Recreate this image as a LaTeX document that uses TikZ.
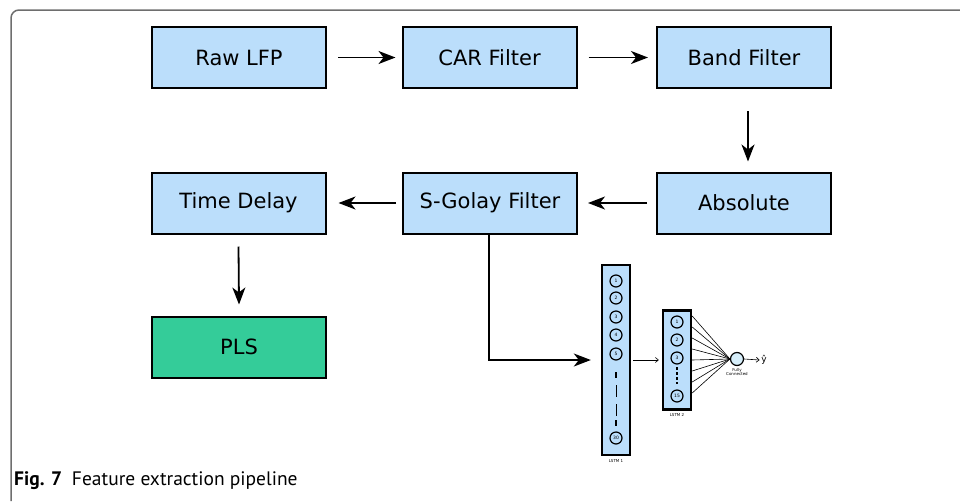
\documentclass[tikz,border=0pt]{standalone}
\usepackage{fontspec}
\newfontfamily\boxfont{DejaVu Sans}
\newfontfamily\capfont{PT Sans}
\usetikzlibrary{
    arrows.meta,
    positioning
}
\definecolor{boxblue}{RGB}{187,222,251}
\definecolor{plsgreen}{RGB}{52,204,153}
\definecolor{fcblue}{RGB}{214,238,250}
\definecolor{framegrey}{RGB}{110,110,110}
\tikzset{
    stage/.style={draw=black, line width=2pt, fill=boxblue,
        minimum width=174pt, minimum height=61pt, inner sep=0pt,
        font=\boxfont\fontsize{21}{24}\selectfont},
    flow/.style={-{Stealth[length=17pt,width=13pt,inset=5pt]}, line width=1.8pt},
    thinflow/.style={-{Straight Barb[length=3pt,width=5pt]}, line width=0.6pt},
    layer/.style={draw=black, line width=2.4pt, fill=boxblue,
        minimum width=28pt, inner sep=0pt},
    unit/.style={circle, draw=black, line width=1.2pt, fill=boxblue,
        minimum size=12pt, inner sep=0pt,
        font=\boxfont\fontsize{4.5}{5}\selectfont},
    tag/.style={font=\boxfont\fontsize{4}{4.5}\selectfont, align=center, inner sep=1pt}
}

\begin{document}
\begin{tikzpicture}[x=1pt,y=-1pt]
    \useasboundingbox (0,0) rectangle (960,501);
    \draw[framegrey, line width=1.5pt, rounded corners=8pt] (11,501) -- (11,10) -- (960,10);

    % pipeline
    \node[stage] (raw)    at (239,57.5)  {Raw LFP};
    \node[stage] (car)    at (489.5,57.5) {CAR Filter};
    \node[stage] (band)   at (744,57.5)  {Band Filter};
    \node[stage] (abs)    at (744,203)   {Absolute};
    \node[stage] (sgolay) at (490,203)   {S-Golay Filter};
    \node[stage] (delay)  at (238.5,203) {Time Delay};
    \node[stage, fill=plsgreen] (pls) at (239,347) {PLS};

    \draw[flow] ([xshift=11pt]raw.east) -- ([xshift=-6pt]car.west);
    \draw[flow] ([xshift=11pt]car.east) -- ([xshift=-8pt]band.west);
    \draw[flow] ([xshift=4pt,yshift=-22pt]band.south) -- ([xshift=4pt,yshift=10pt]abs.north);
    \draw[flow] ([xshift=-9pt]abs.west) -- ([xshift=10pt]sgolay.east);
    \draw[flow] ([xshift=-6pt]sgolay.west) -- ([xshift=12pt]delay.east);
    \draw[flow] ([yshift=-12pt]delay.south) -- ([yshift=11pt]pls.north);

    % network
    \node[layer, minimum height=190pt] (lstm1) at (616,360) {};
    \node[layer, minimum height=99pt]  (lstm2) at (677,360) {};
    \draw[flow, line width=1.2pt] ([xshift=-1pt]sgolay.south) |- ([xshift=-10pt]lstm1.west);

    \foreach \n/\y in {1/281,2/298,3/317,4/335,5/354,30/438}
        \node[unit] (a\n) at (616,\y) {\n};
    \foreach \n/\y in {1/322,2/340,3/358,15/396}
        \node[unit] (b\n) at (677,\y) {\n};
    \draw[line width=1.6pt] (616,372) -- (616,378) (616,420) -- (616,426);
    \draw[line width=0.8pt] (616,385) -- (616,397) (616,404) -- (616,416);
    \draw[line width=1.6pt, dash pattern=on 3pt off 2pt] (677,367) -- (677,384);

    \node[tag, below=2pt of lstm1] (lstm1name) {LSTM 1};
    \node[tag, below=2pt of lstm2] (lstm2name) {LSTM 2};
    \draw[thinflow] ([xshift=2pt]lstm1.east) -- ([xshift=-3pt]lstm2.west);

    \node[unit, fill=fcblue, minimum size=13pt] (fc) at (737,359) {};
    \foreach \k in {0,...,7}
        \draw[line width=0.6pt] ([yshift={(44-11*\k)*1pt}]lstm2.east) -- (fc.west);
    \node[tag, below=1pt of fc] (fcname) {Fully\\Connected};
    \node[font=\boxfont\fontsize{9}{10}\selectfont, inner sep=0pt] (yhat) at (764,360) {ŷ};
    \draw[thinflow] (fc.east) -- ([xshift=-1.5pt]yhat.west);

    \node[anchor=base west, inner sep=0pt, font=\capfont\fontsize{19.5}{22}\selectfont]
        (caption) at (14,485) {\textbf{Fig. 7}\hspace{0.5em}Feature extraction pipeline};
\end{tikzpicture}
\end{document}
